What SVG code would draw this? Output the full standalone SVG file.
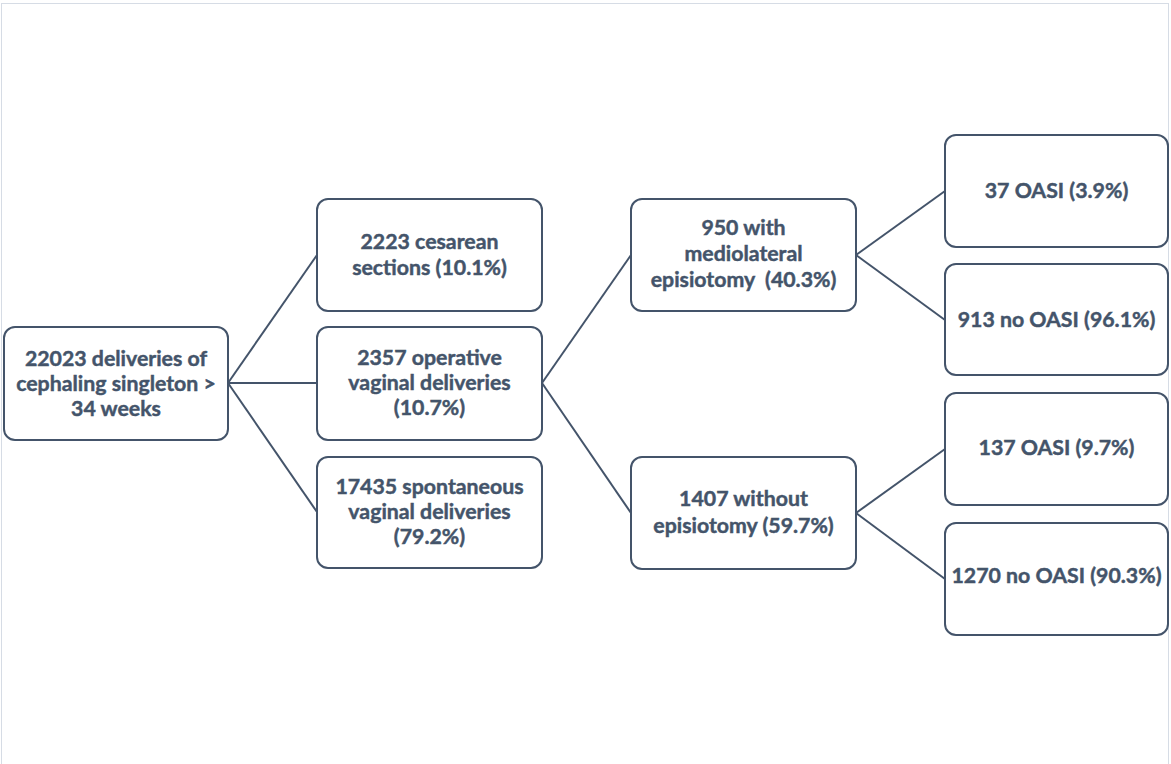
<svg xmlns="http://www.w3.org/2000/svg" width="1171" height="764" viewBox="0 0 1171 764">
<style>
.box{fill:#ffffff;stroke:#44546A;stroke-width:2}
.t{font-family:Lato,"Open Sans","Liberation Sans",sans-serif;font-weight:bold;font-size:21.3px;fill:#44546A;stroke:#44546A;stroke-width:0.45;text-anchor:middle}
.c{stroke:#44546A;stroke-width:2;fill:none}
</style>
<rect x="0" y="0" width="1171" height="764" fill="#ffffff"/>
<rect x="1.5" y="3.5" width="1167" height="780" fill="none" stroke="#D6DCE5" stroke-width="1"/>
<g id="connectors">
<line class="c" x1="228" y1="383" x2="317" y2="255"/>
<line class="c" x1="228" y1="383" x2="317" y2="383"/>
<line class="c" x1="228" y1="383" x2="317" y2="512"/>
<line class="c" x1="542" y1="383" x2="631" y2="255"/>
<line class="c" x1="542" y1="383" x2="631" y2="513"/>
<line class="c" x1="856" y1="255" x2="945" y2="191"/>
<line class="c" x1="856" y1="255" x2="945" y2="320"/>
<line class="c" x1="856" y1="513" x2="945" y2="449"/>
<line class="c" x1="856" y1="513" x2="945" y2="579"/>
</g>
<g id="root">
<rect class="box" x="4" y="327" width="224" height="113" rx="11"/>
<text class="t" x="116" y="366">22023 deliveries of</text>
<text class="t" x="116" y="391">cephaling singleton &gt;</text>
<text class="t" x="116" y="416">34 weeks</text>
</g>
<g id="cesarean">
<rect class="box" x="317" y="199" width="225" height="112" rx="11"/>
<text class="t" x="429.5" y="249">2223 cesarean</text>
<text class="t" x="429.5" y="275">sections (10.1%)</text>
</g>
<g id="operative">
<rect class="box" x="317" y="327" width="225" height="113" rx="11"/>
<text class="t" x="429.5" y="365">2357 operative</text>
<text class="t" x="429.5" y="390">vaginal deliveries</text>
<text class="t" x="429.5" y="415">(10.7%)</text>
</g>
<g id="spontaneous">
<rect class="box" x="317" y="457" width="225" height="111" rx="11"/>
<text class="t" x="429.5" y="494">17435 spontaneous</text>
<text class="t" x="429.5" y="519">vaginal deliveries</text>
<text class="t" x="429.5" y="544">(79.2%)</text>
</g>
<g id="episiotomy">
<rect class="box" x="631" y="199" width="225" height="112" rx="11"/>
<text class="t" x="743.5" y="235">950 with</text>
<text class="t" x="743.5" y="261">mediolateral</text>
<text class="t" x="743.5" y="287" xml:space="preserve">episiotomy  (40.3%)</text>
</g>
<g id="without">
<rect class="box" x="631" y="457" width="225" height="112" rx="11"/>
<text class="t" x="743.5" y="506">1407 without</text>
<text class="t" x="743.5" y="533">episiotomy (59.7%)</text>
</g>
<g id="oasi37">
<rect class="box" x="945" y="135" width="223" height="112" rx="11"/>
<text class="t" x="1056.5" y="198">37 OASI (3.9%)</text>
</g>
<g id="nooasi913">
<rect class="box" x="945" y="264" width="223" height="111" rx="11"/>
<text class="t" x="1056.5" y="327">913 no OASI (96.1%)</text>
</g>
<g id="oasi137">
<rect class="box" x="945" y="393" width="223" height="112" rx="11"/>
<text class="t" x="1056.5" y="455">137 OASI (9.7%)</text>
</g>
<g id="nooasi1270">
<rect class="box" x="945" y="523" width="223" height="112" rx="11"/>
<text class="t" x="1056.5" y="583">1270 no OASI (90.3%)</text>
</g>
</svg>
